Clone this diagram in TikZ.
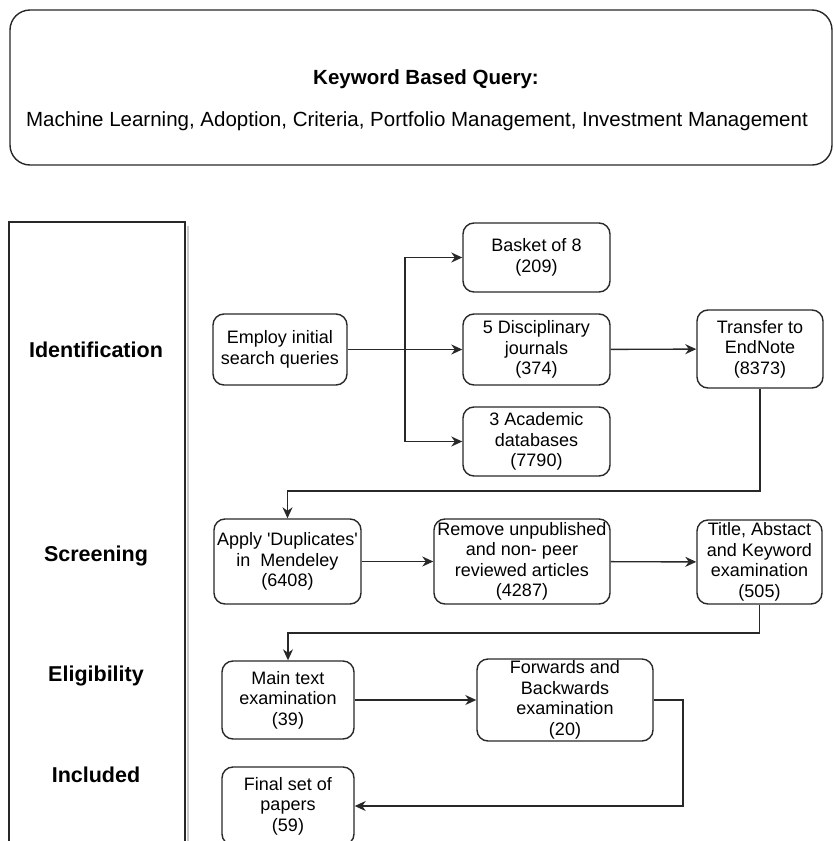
\documentclass[tikz,border=0pt]{standalone}
\usepackage{fontspec}
\setmainfont{Liberation Sans}
\usepackage{tikz}
\usetikzlibrary{arrows.meta, positioning, calc}
\definecolor{prline}{RGB}{40,40,40}
\definecolor{prshade}{RGB}{200,200,200}

\begin{document}
\begin{tikzpicture}[
  x=1pt, y=-1pt,
  box/.style={draw=prline, line width=1.4pt, rounded corners=11pt, align=center,
              inner sep=0pt, font=\fontsize{18}{20.5}\selectfont},
  stage/.style={font=\fontsize{21.5}{24}\selectfont\bfseries},
  arr/.style={-{Stealth[length=11pt, width=10pt, inset=3.5pt]}, draw=prline, line width=1.4pt},
  lnk/.style={draw=prline, line width=1.4pt}
]
  \clip (0,0) rectangle (834,841);

  % Query box
  \node[draw=prline, line width=1.4pt, rounded corners=20pt, minimum width=822pt,
        minimum height=155pt] (qbox) at (421,87.5) {};
  \node[font=\fontsize{20.5}{24}\selectfont\bfseries] (qtitle) at (426,79) {Keyword Based Query:};
  \node[font=\fontsize{20.5}{24}\selectfont] (qterms) at (417,121)
       {Machine Learning, Adoption, Criteria, Portfolio Management, Investment Management};

  % Stage column
  \draw[prshade, line width=2.5pt] (188,226) -- (188,845);
  \draw[lnk] (9,845) -- (9,222) -- (185,222) -- (185,845);
  \node[stage] (sid)  at (96,350) {Identification};
  \node[stage] (sscr) at (96,556) {Screening};
  \node[stage] (selg) at (96,676) {Eligibility};
  \node[stage] (sinc) at (96,775) {Included};

  % Identification
  \node[box, minimum width=134pt, minimum height=71pt] (emp)  at (280,349.5)
       {Employ initial\\search queries};
  \node[box, minimum width=147pt, minimum height=69pt] (bask) at (536.5,257.5)
       {Basket of 8\\(209)};
  \node[box, minimum width=147pt, minimum height=71pt] (disc) at (536.5,349.5)
       {5 Disciplinary\\journals\\(374)};
  \node[box, minimum width=147pt, minimum height=69pt] (acad) at (536.5,441.5)
       {3 Academic\\databases\\(7790)};
  \node[box, minimum width=126pt, minimum height=78pt] (endn) at (760,349)
       {Transfer to\\EndNote\\(8373)};

  % Screening
  \node[box, minimum width=147pt, minimum height=85pt] (dupl) at (287.5,561.5)
       {Apply \textquotesingle Duplicates\textquotesingle\\in\ \ Mendeley\\(6408)};
  \node[box, minimum width=176pt, minimum height=85pt] (rmv)  at (522,561.5)
       {Remove unpublished\\and non- peer\\reviewed articles\\(4287)};
  \node[box, minimum width=125pt, minimum height=84pt] (tak)  at (759.5,562)
       {Title, Abstact\\and Keyword\\examination\\(505)};

  % Eligibility / Included
  \node[box, minimum width=132pt, minimum height=78pt] (mtx) at (288,700)
       {Main text\\examination\\(39)};
  \node[box, minimum width=176pt, minimum height=82pt] (fwb) at (565,700)
       {Forwards and\\Backwards\\examination\\(20)};
  \node[box, minimum width=132pt, minimum height=78pt] (fin) at (288,806)
       {Final set of\\papers\\(59)};

  % Connectors
  \coordinate (split) at (405,349.5);
  \coordinate (bend1) at (287.5,491);
  \coordinate (bend2) at (288,633);
  \coordinate (bend3) at (683,700);

  \draw[lnk] (emp) -- (split);
  \draw[arr] (split) |- (bask);
  \draw[arr] (split) -- (disc);
  \draw[arr] (split) |- (acad);
  \draw[arr] (disc) -- (endn);

  \draw[arr] (endn) |- (bend1) -- (dupl);
  \draw[arr] (dupl) -- (rmv);
  \draw[arr] (rmv) -- (tak);

  \draw[arr] (tak) |- (bend2) -- (mtx);
  \draw[arr] (mtx) -- (fwb);
  \draw[arr] (fwb) -- (bend3) |- (fin);

\end{tikzpicture}
\end{document}
